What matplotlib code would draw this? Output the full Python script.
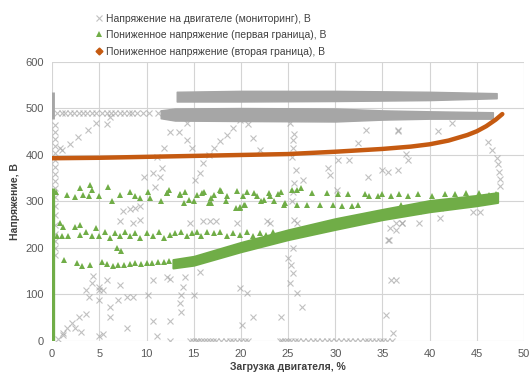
from matplotlib import pyplot as plt

plt.rcParams['font.family'] = ['Liberation Sans', 'DejaVu Sans']

GRAY = '#A6A6A6'
GREEN = '#70AD47'
ORANGE = '#C55A11'

# --- monitored voltage (gray crosses) ---
# dense bands, read as lower / upper edges
gu_x = [13.2, 20, 30, 40, 47.1]
gu_lo = [515, 515, 516, 518, 522]
gu_hi = [536, 538, 538, 536, 533]

gl_x = [11.5, 13, 20, 30, 35, 40, 46.7]
gl_lo = [479, 474, 473, 472, 476, 478, 478]
gl_hi = [496, 500, 501, 500, 496, 494, 492]

# dense column at zero load
g0_x = [0, 0]
g0_y = [478, 536]

# single crosses
mon_x = [0.5, 1.0, 1.4, 1.9, 2.3, 2.8, 3.3, 3.7, 4.2, 4.6, 5.3, 5.8, 6.2, 6.7, 7.2, 7.6, 8.1,
         8.5, 9.0, 9.6, 10.3, 11.2,
         0.85, 1.0, 1.9, 2.7, 3.8, 4.7, 5.8, 6.1,
         0.3, 0.3, 0.3, 0.3, 0.3, 0.3, 0.3, 0.3, 0.3, 0.3, 0.3, 0.3, 0.3, 0.3, 0.3, 0.3, 0.3, 0.3,
         9.7, 10.7, 11.1, 11.8, 12.5, 13.4, 14.3, 14.3, 14.8, 15.1, 15.7, 16.0, 16.6, 17.1,
         17.8, 18.5, 19.2, 19.9, 20.8, 21.3, 22.0, 11.4, 11.6, 10.9,
         7.5, 8.2, 8.8, 9.3, 7.2, 8.6, 9.3,
         25.2, 25.5, 25.8, 26.6, 29.2, 29.4, 30.3, 31.5, 32.4, 33.3, 33.5, 34.9, 35.6, 36.6,
         36.6, 37.7, 37.5, 40.9, 42.4, 46.2, 46.6, 47.1, 47.2, 47.4, 47.5, 47.5, 30.2, 36.7,
         25.4, 25.5, 25.6, 25.4, 25.5, 25.6,
         1.6, 1.1, 2.1, 2.8, 3.1, 3.6, 3.9, 3.6, 4.2, 4.3, 5.0, 5.0, 5.4, 5.8, 6.1, 6.1, 7.0,
         7.2, 7.9, 8.6, 7.9, 5.0, 2.4, 5.0,
         10.2, 10.7, 11.1, 12.2, 12.5, 12.5, 13.6, 13.7, 13.9, 13.7, 14.1, 15.0, 15.7, 19.9,
         20.6, 20.1, 21.3, 12.5, 10.7, 5.4,
         25.0, 25.3, 25.5, 25.2, 25.9, 26.5, 24.2, 25.5, 35.6, 35.9, 36.4, 35.4, 36.1, 38.8,
         41.1, 36.4, 37.1,
         14.6, 16.0, 16.7, 17.4, 19.6, 22.8, 23.1, 25.6, 25.9, 35.8, 36.4, 37.1, 38.9, 41.1,
         44.6, 45.3, 35.7,
         14.6, 14.9, 15.2, 15.5, 15.8, 16.1, 16.4, 16.7, 17.0, 17.4, 17.9, 18.4, 18.8, 19.2,
         19.6, 20.0, 20.4, 20.8, 24.1, 24.4, 24.7, 25.0, 25.3, 25.7, 26.1, 26.6, 27.1, 27.6,
         28.1, 28.6, 29.1, 29.6, 30.1, 30.6, 31.1, 31.6, 32.1, 32.6, 33.1, 33.5, 33.9, 34.3,
         34.7, 35.1, 35.5, 36.0, 0.6, 1.2]
mon_y = [491, 491, 491, 491, 491, 491, 491, 491, 491, 491, 491, 491, 491, 491, 491, 491, 491,
         491, 491, 491, 491, 491,
         415, 411, 424, 438, 453, 469, 466, 482,
         185, 200, 215, 230, 250, 270, 290, 310, 330, 345, 360, 375, 390, 405, 420, 435, 450, 465,
         353, 361, 396, 414, 450, 450, 468, 432, 414, 346, 361, 382, 400, 415,
         429, 443, 458, 476, 466, 437, 411, 353, 372, 331,
         280, 283, 286, 290, 257, 253, 260,
         469, 432, 368, 346, 372, 358, 389, 389, 425, 454, 353, 368, 364, 368,
         451, 389, 403, 451, 469, 428, 411, 394, 380, 363, 349, 334, 325, 454,
         300, 320, 340, 395, 415, 445,
         28, 18, 39, 52, 20, 58, 95, 110, 125, 139, 117, 88, 110, 131, 52, 74, 88,
         120, 95, 95, 28, 10, 28, 110,
         99, 43, 10, 138, 134, 43, 81, 99, 117, 63, 138, 99, 149, 113,
         103, 35, 52, 0, 131, 14,
         178, 164, 146, 125, 103, 74, 52, 199, 217, 131, 131, 56, 17, 279,
         286, 239, 253,
         254, 257, 257, 257, 254, 257, 254, 260, 254, 243, 254, 254, 254, 264,
         278, 278, 217,
         0, 0, 0, 0, 0, 0, 0, 0, 0, 0, 0, 0, 0, 0,
         0, 0, 0, 0, 0, 0, 0, 0, 0, 0, 0, 0, 0, 0,
         0, 0, 0, 0, 0, 0, 0, 0, 0, 0, 0, 0, 0, 0,
         0, 0, 0, 0, 5, 12]

# --- first boundary (green triangles) ---
gv_x = [0, 0]
gv_y = [0, 330]

band_x = [12.8, 15.0, 20.0, 25.0, 30.0, 35.0, 40.0, 45.0, 47.2]
band_lo = [157, 163, 192, 218, 240, 261, 278, 291, 298]
band_hi = [175, 182, 212, 239, 263, 283, 302, 313, 319]

tri_x = [1.6, 2.4, 3.0, 3.3, 4.0, 4.2, 3.9, 5.0, 5.9, 6.3, 7.2, 8.3, 8.8, 9.3, 10.2, 10.4,
         11.5, 12.2, 12.4, 13.6, 14.1, 14.5, 15.4, 16.1, 16.6, 16.8, 17.2, 17.8, 18.5, 19.5,
         19.9, 20.3, 20.6, 21.7, 22.4, 23.1, 23.5, 24.2, 24.7,
         12.2, 13.6, 14.0, 15.0, 15.9, 16.8, 17.9, 18.4, 19.6, 19.9, 20.4, 20.2, 21.4, 22.1,
         23.0, 23.9, 24.6, 25.4, 25.9, 26.4, 25.9, 27.0, 27.5, 28.4, 29.1, 29.8, 30.3, 30.7,
         31.4, 31.8, 32.4, 33.1, 33.6, 34.5, 35.0, 35.9, 36.8, 37.0, 37.7, 38.8, 40.2, 41.6,
         42.7, 43.8, 45.2, 46.3, 47.0,
         0.8, 1.0, 1.7, 2.4, 3.0, 3.6, 4.2, 4.6, 5.0, 5.6, 6.1, 6.7, 7.2, 7.7, 8.3, 8.8, 9.3,
         10.0, 10.7, 11.3, 11.8, 12.5, 13.0, 13.7, 14.3, 14.8, 15.3, 15.8, 16.4, 17.1, 17.8,
         18.5, 19.2, 19.9, 20.6, 21.3, 22.0, 22.7, 23.4, 1.2, 3.0,
         1.3, 2.6, 3.2, 4.0, 5.3, 5.8, 6.4, 7.0, 7.6, 8.2, 8.8, 9.4, 10.0, 10.6, 11.2, 11.8,
         12.4, 6.9, 7.3, 0.4, 0.5]
tri_y = [314, 309, 329, 314, 335, 325, 311, 311, 332, 300, 314, 321, 311, 307, 321, 307,
         300, 318, 325, 314, 321, 304, 314, 321, 297, 307, 314, 325, 311, 286,
         289, 293, 321, 311, 304, 311, 300, 321, 297,
         319, 315, 297, 301, 318, 297, 322, 301, 322, 286, 293, 311, 318, 301,
         318, 315, 293, 325, 325, 329, 293, 293, 318, 293, 318, 293, 315, 290,
         315, 290, 293, 315, 311, 311, 315, 311, 315, 293, 311, 315, 311, 315,
         315, 318, 318, 314, 316,
         253, 225, 225, 246, 228, 235, 225, 242, 225, 235, 221, 232, 225, 235, 225, 232, 221,
         232, 225, 235, 221, 228, 232, 235, 225, 232, 235, 225, 235, 232, 235,
         225, 232, 228, 235, 225, 232, 228, 235, 246, 250,
         174, 167, 161, 163, 170, 165, 162, 163, 164, 165, 167, 166, 168, 168, 170, 170,
         172, 200, 193, 320, 225]

# --- second boundary (orange diamonds) ---
orange_x = [0, 5, 10, 15, 20, 25, 30, 35, 38, 40, 42, 44, 45, 46, 47, 47.7]
orange_y = [393, 394, 396, 398, 400, 402, 407, 413, 418, 423, 431, 443, 451, 462, 476, 488]

fig = plt.figure(figsize=(5.32, 3.78), dpi=100)
ax = fig.add_axes([0.098, 0.098, 0.887, 0.738])

ax.fill_between(gu_x, gu_lo, gu_hi, color=GRAY, lw=1, zorder=2)
ax.fill_between(gl_x, gl_lo, gl_hi, color=GRAY, lw=1, zorder=2)
ax.plot(g0_x, g0_y, color=GRAY, lw=3.5, solid_capstyle='butt', zorder=2)
ax.plot(mon_x, mon_y, 'x', color=GRAY, ms=5, mew=0.8, alpha=0.7, zorder=2,
        label='Напряжение на двигателе (мониторинг), В')

ax.plot(gv_x, gv_y, color=GREEN, lw=3.8, solid_capstyle='butt', zorder=3)
ax.fill_between(band_x, band_lo, band_hi, color=GREEN, lw=1.5, zorder=3)
ax.plot(tri_x, tri_y, '^', color=GREEN, ms=5, mew=0, zorder=3,
        label='Пониженное напряжение (первая граница), В')

ax.plot(orange_x, orange_y, color=ORANGE, lw=3.2, solid_capstyle='round', zorder=4)
ax.plot([], [], 'D', color=ORANGE, ms=3.5, label='Пониженное напряжение (вторая граница), В')

ax.set_xlim(0, 50)
ax.set_ylim(0, 600)
ax.set_xticks(range(0, 51, 5))
ax.set_yticks(range(0, 601, 100))
ax.grid(color='#D4D4D4', lw=0.8)
ax.set_axisbelow(True)
for s in ax.spines.values():
    s.set_visible(False)
ax.tick_params(length=0, labelsize=8, colors='#595959', pad=6)
ax.set_xlabel('Загрузка двигателя, %', fontsize=7.5, fontweight='bold', color='#404040', labelpad=2)
ax.set_ylabel('Напряжение, В', fontsize=7.5, fontweight='bold', color='#404040', labelpad=4)

fig.legend(loc='upper left', bbox_to_anchor=(0.172, 0.975), frameon=False, fontsize=7.5,
           handlelength=0.6, handletextpad=0.4, labelspacing=0.62, borderaxespad=0,
           labelcolor='#404040')

plt.savefig('out.png')
